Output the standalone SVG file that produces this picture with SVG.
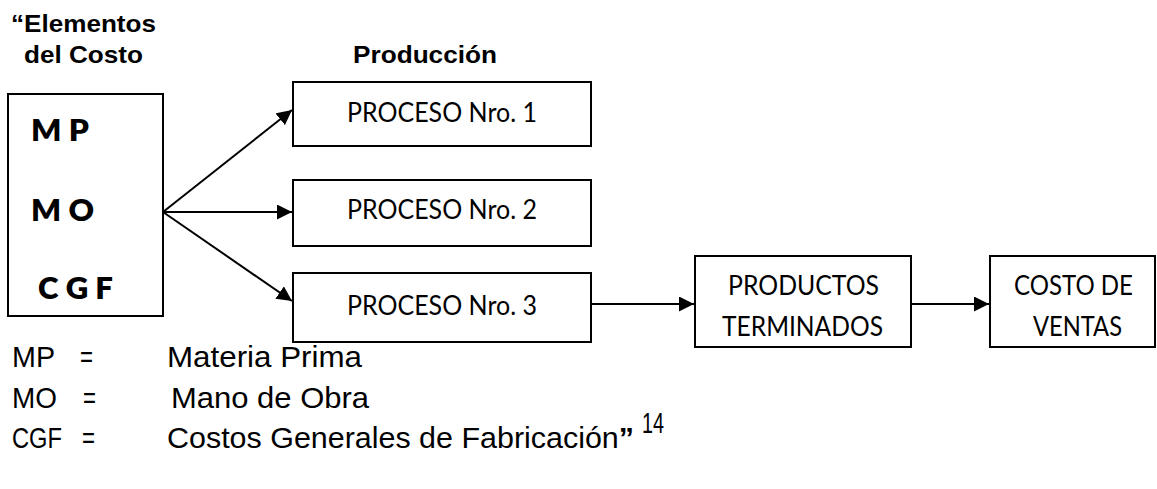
<svg xmlns="http://www.w3.org/2000/svg" width="1157" height="489" viewBox="0 0 1157 489">
<defs>
<marker id="ah" markerWidth="15" markerHeight="15" refX="15" refY="7.5" orient="auto" markerUnits="userSpaceOnUse">
<path d="M0,0 L15,7.5 L0,15 Z" fill="#000"/>
</marker>
<style>
.box{fill:#fff;stroke:#000;stroke-width:2}
.head{font-family:"Liberation Sans",Arial,sans-serif;font-weight:bold;font-size:24px;fill:#000}
.cal{font-family:Lato,"Open Sans",sans-serif;font-size:26px;fill:#000}
.calb{font-family:Lato,"Open Sans",sans-serif;font-size:30px;font-weight:800;fill:#000}
.leg{font-family:"Liberation Sans",Arial,sans-serif;font-size:29px;fill:#000}
.con{stroke:#000;stroke-width:2;fill:none;marker-end:url(#ah)}
</style>
</defs>
<rect width="1157" height="489" fill="#fff"/>
<g id="headings">
<text class="head" x="11" y="32" textLength="145" lengthAdjust="spacingAndGlyphs">“Elementos</text>
<text class="head" x="24" y="63" textLength="119" lengthAdjust="spacingAndGlyphs">del Costo</text>
<text class="head" x="353" y="63" textLength="144" lengthAdjust="spacingAndGlyphs">Producción</text>
</g>
<g id="elementos">
<rect class="box" x="8" y="94" width="155" height="222"/>
<text class="calb" x="31" y="141" textLength="58" lengthAdjust="spacingAndGlyphs">M P</text>
<text class="calb" x="31" y="221" textLength="63" lengthAdjust="spacingAndGlyphs">M O</text>
<text class="calb" x="38" y="299" textLength="75" lengthAdjust="spacingAndGlyphs">C G F</text>
</g>
<g id="proceso1">
<rect class="box" x="293" y="82" width="298" height="64"/>
<text class="cal" x="347" y="122" textLength="190" lengthAdjust="spacingAndGlyphs">PROCESO Nro. 1</text>
</g>
<g id="proceso2">
<rect class="box" x="293" y="180" width="298" height="66"/>
<text class="cal" x="347" y="219" textLength="190" lengthAdjust="spacingAndGlyphs">PROCESO Nro. 2</text>
</g>
<g id="proceso3">
<rect class="box" x="293" y="273" width="298" height="69"/>
<text class="cal" x="347" y="315" textLength="190" lengthAdjust="spacingAndGlyphs">PROCESO Nro. 3</text>
</g>
<g id="productos">
<rect class="box" x="695" y="256" width="216" height="91"/>
<text class="cal" x="728" y="295" textLength="151" lengthAdjust="spacingAndGlyphs">PRODUCTOS</text>
<text class="cal" x="722" y="336" textLength="161" lengthAdjust="spacingAndGlyphs">TERMINADOS</text>
</g>
<g id="costo">
<rect class="box" x="990" y="256" width="165" height="91"/>
<text class="cal" x="1014" y="295" textLength="119" lengthAdjust="spacingAndGlyphs">COSTO DE</text>
<text class="cal" x="1033" y="336" textLength="89" lengthAdjust="spacingAndGlyphs">VENTAS</text>
</g>
<g id="connectors">
<line class="con" x1="163" y1="212" x2="292" y2="110"/>
<line class="con" x1="163" y1="212" x2="292" y2="212"/>
<line class="con" x1="163" y1="212" x2="292" y2="301"/>
<line class="con" x1="591" y1="304" x2="694" y2="304"/>
<line class="con" x1="911" y1="304" x2="989" y2="304"/>
</g>
<g id="legend">
<text class="leg" x="12" y="367" textLength="43" lengthAdjust="spacingAndGlyphs">MP</text>
<text class="leg" x="80" y="367" textLength="13" lengthAdjust="spacingAndGlyphs">=</text>
<text class="leg" x="167" y="367" textLength="195" lengthAdjust="spacingAndGlyphs">Materia Prima</text>
<text class="leg" x="12" y="408" textLength="45" lengthAdjust="spacingAndGlyphs">MO</text>
<text class="leg" x="83" y="408" textLength="13" lengthAdjust="spacingAndGlyphs">=</text>
<text class="leg" x="171" y="408" textLength="198" lengthAdjust="spacingAndGlyphs">Mano de Obra</text>
<text class="leg" x="12" y="448" textLength="50" lengthAdjust="spacingAndGlyphs">CGF</text>
<text class="leg" x="82" y="448" textLength="13" lengthAdjust="spacingAndGlyphs">=</text>
<text class="leg" x="167" y="448" textLength="467" lengthAdjust="spacingAndGlyphs">Costos Generales de Fabricación<tspan font-weight="bold">”</tspan></text>
<text class="leg" x="642" y="433" font-size="19" textLength="22" lengthAdjust="spacingAndGlyphs">14</text>
</g>
</svg>
